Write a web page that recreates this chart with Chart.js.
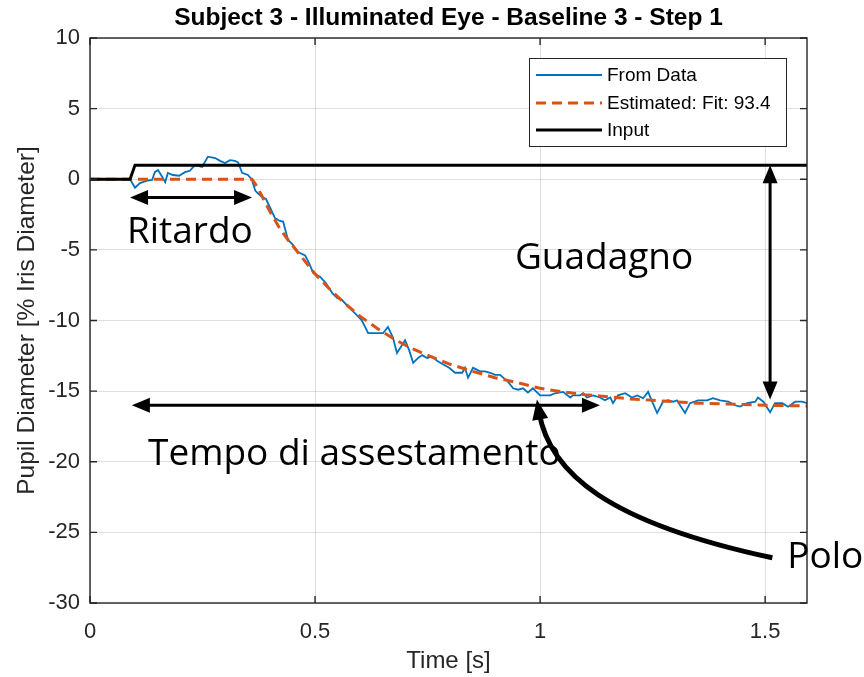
<!DOCTYPE html>
<html><head><meta charset="utf-8">
<script src="https://cdn.jsdelivr.net/npm/chart.js@4.4.1/dist/chart.umd.min.js"></script>
<style>html,body{margin:0;padding:0;background:#fff;}canvas{display:block;}</style>
</head><body>
<canvas id="c" width="864" height="677"></canvas>
<script>
// ---- text ----
const titleText = 'Subject 3 - Illuminated Eye - Baseline 3 - Step 1';
const xLabel = 'Time [s]';
const yLabel = 'Pupil Diameter [% Iris Diameter]';
const seriesNames = ['From Data', 'Estimated: Fit: 93.4', 'Input'];
const xTicks = [0, 0.5, 1, 1.5];
const yTicks = [-30, -25, -20, -15, -10, -5, 0, 5, 10];

// ---- measured data (From Data) ----
const dataT = [0,0.089,0.1,0.111,0.127,0.138,0.144,0.151,0.16,0.167,0.173,0.184,0.198,0.211,0.222,0.233,0.249,0.262,0.278,0.289,0.3,0.311,0.322,0.329,0.338,0.351,0.36,0.367,0.373,0.382,0.391,0.4,0.411,0.422,0.429,0.44,0.451,0.462,0.478,0.487,0.496,0.511,0.524,0.538,0.549,0.56,0.573,0.589,0.604,0.618,0.633,0.651,0.662,0.673,0.682,0.693,0.7,0.709,0.718,0.729,0.738,0.749,0.76,0.771,0.784,0.798,0.811,0.827,0.833,0.84,0.851,0.867,0.878,0.889,0.9,0.911,0.929,0.94,0.951,0.962,0.973,0.984,1.0,1.011,1.022,1.033,1.051,1.067,1.073,1.089,1.096,1.104,1.118,1.133,1.144,1.156,1.162,1.173,1.189,1.204,1.216,1.229,1.24,1.249,1.26,1.273,1.284,1.296,1.304,1.322,1.333,1.351,1.371,1.384,1.4,1.418,1.433,1.444,1.46,1.478,1.484,1.496,1.511,1.522,1.538,1.551,1.567,1.582,1.593];
const dataV = [0,0,-0.6,-0.27,-0.1,-0.05,0.5,0.65,0.2,-0.2,0.45,0.3,0.25,0.5,0.6,1.0,0.87,1.6,1.5,1.3,1.15,1.35,1.3,1.2,0.45,0.3,-0.05,-0.8,-1.0,-1.25,-1.4,-2.0,-2.75,-2.95,-3.0,-4.3,-4.65,-5.15,-5.4,-5.95,-6.65,-6.9,-7.35,-8.05,-8.4,-8.55,-9.0,-9.5,-10.0,-10.9,-10.9,-10.9,-10.45,-11.2,-12.3,-11.75,-11.4,-12.1,-13.0,-12.65,-12.45,-12.65,-12.55,-12.85,-13.1,-13.35,-13.7,-13.7,-13.35,-14.05,-13.35,-13.6,-13.6,-13.7,-13.85,-13.85,-14.35,-14.8,-14.9,-14.8,-15.1,-14.8,-15.3,-15.3,-15.3,-15.15,-15.05,-15.45,-15.3,-15.3,-15.15,-15.45,-15.3,-15.45,-15.65,-15.45,-15.85,-15.3,-15.15,-15.45,-15.3,-15.5,-15.05,-15.75,-16.55,-15.75,-15.65,-15.75,-15.65,-16.55,-15.85,-15.65,-15.65,-15.5,-15.65,-15.75,-16.0,-16.1,-15.85,-15.75,-15.45,-15.75,-16.5,-15.85,-15.85,-16.1,-15.75,-15.75,-15.85];

// ---- estimated model ----
const estT = [0,0.36,0.371,0.387,0.4,0.42,0.44,0.46,0.48,0.5,0.53,0.56,0.6,0.64,0.68,0.72,0.76,0.8,0.85,0.9,0.95,1.0,1.05,1.1,1.15,1.2,1.25,1.3,1.35,1.4,1.45,1.5,1.593];
const estV = [0,0,-0.5,-1.5,-2.3,-3.4,-4.3,-5.1,-5.9,-6.7,-7.7,-8.6,-9.7,-10.6,-11.4,-12.05,-12.6,-13.1,-13.6,-14.05,-14.4,-14.8,-15.05,-15.25,-15.4,-15.55,-15.65,-15.75,-15.85,-15.9,-15.95,-16.0,-16.05];

// ---- input step ----
const inT = [0, 0.089, 0.1, 1.593];
const inV = [0, 0, 1, 1];

// ---- annotation labels ----
const annLabels = ['Ritardo', 'Guadagno', 'Tempo di assestamento', 'Polo'];

const FONT = '"Liberation Sans", Arial, sans-serif';
const ANNFONT = '"Open Sans", "Noto Sans", sans-serif';

function head(ctx, tx, ty, ang, len, wid) {
  ctx.save();
  ctx.translate(tx, ty); ctx.rotate(ang);
  ctx.beginPath();
  ctx.moveTo(0, 0); ctx.lineTo(-len, -wid / 2); ctx.lineTo(-len, wid / 2); ctx.closePath();
  ctx.fill();
  ctx.restore();
}
function dblArrow(ctx, x1, y1, x2, y2) {
  const ang = Math.atan2(y2 - y1, x2 - x1);
  const L = 18, W = 15;
  ctx.beginPath();
  ctx.moveTo(x1 + Math.cos(ang) * L * 0.8, y1 + Math.sin(ang) * L * 0.8);
  ctx.lineTo(x2 - Math.cos(ang) * L * 0.8, y2 - Math.sin(ang) * L * 0.8);
  ctx.stroke();
  head(ctx, x2, y2, ang, L, W);
  head(ctx, x1, y1, ang + Math.PI, L, W);
}

const decor = {
  id: 'decor',
  afterDraw(chart) {
    const { ctx, chartArea: a, scales: { x, y } } = chart;
    const X = v => x.getPixelForValue(v), Y = v => y.getPixelForValue(v);
    ctx.save();
    // axes box
    ctx.strokeStyle = '#262626'; ctx.lineWidth = 1.4;
    ctx.strokeRect(a.left, a.top, a.right - a.left, a.bottom - a.top);
    // inward tick marks
    const tl = 7;
    ctx.beginPath();
    xTicks.forEach(v => { const p = X(v); ctx.moveTo(p, a.bottom); ctx.lineTo(p, a.bottom - tl); ctx.moveTo(p, a.top); ctx.lineTo(p, a.top + tl); });
    yTicks.forEach(v => { const p = Y(v); ctx.moveTo(a.left, p); ctx.lineTo(a.left + tl, p); ctx.moveTo(a.right, p); ctx.lineTo(a.right - tl, p); });
    ctx.stroke();
    // title
    ctx.fillStyle = '#000';
    ctx.font = 'bold 24.5px ' + FONT;
    ctx.textAlign = 'center'; ctx.textBaseline = 'middle';
    ctx.fillText(titleText, (a.left + a.right) / 2, 18);

    // legend
    const ds = chart.data.datasets;
    const lw = 257, lh = 88;
    const lx = a.right - 21 - lw, ly = a.top + 20;
    ctx.fillStyle = '#fff'; ctx.fillRect(lx, ly, lw, lh);
    ctx.strokeStyle = '#262626'; ctx.lineWidth = 1; ctx.strokeRect(lx + 0.5, ly + 0.5, lw, lh);
    const rows = [17, 45, 72];
    ds.forEach((d, i) => {
      const ry = ly + rows[i];
      ctx.save();
      ctx.strokeStyle = d.borderColor; ctx.lineWidth = d.borderWidth;
      ctx.setLineDash(d.borderDash || []);
      ctx.beginPath(); ctx.moveTo(lx + 7, ry); ctx.lineTo(lx + 73, ry); ctx.stroke();
      ctx.restore();
      ctx.fillStyle = '#000'; ctx.font = '19px ' + FONT;
      ctx.textAlign = 'left'; ctx.textBaseline = 'middle';
      ctx.fillText(d.label, lx + 78, ry + 1);
    });

    // annotations
    ctx.fillStyle = '#000'; ctx.strokeStyle = '#000'; ctx.lineWidth = 3;
    // Ritardo
    dblArrow(ctx, X(0.089), Y(-1.3), X(0.36), Y(-1.3));
    // Guadagno
    dblArrow(ctx, X(1.511), Y(1.0), X(1.511), Y(-15.6));
    // Tempo di assestamento
    dblArrow(ctx, X(0.093), Y(-16.0), X(1.133), Y(-16.0));
    // Polo curved arrow
    const tip = [X(0.993), Y(-15.6)], c1 = [X(1.02), Y(-20.8)], c2 = [X(1.15), Y(-24.3)], end = [X(1.516), Y(-26.8)];
    ctx.lineWidth = 5;
    const ang = Math.atan2(tip[1] - c1[1], tip[0] - c1[0]);
    ctx.beginPath();
    ctx.moveTo(end[0], end[1]);
    ctx.bezierCurveTo(c2[0], c2[1], c1[0], c1[1], tip[0] - Math.cos(ang) * 12, tip[1] - Math.sin(ang) * 12);
    ctx.stroke();
    head(ctx, tip[0], tip[1], ang, 20, 16);

    ctx.font = '37px ' + ANNFONT;
    ctx.textAlign = 'left'; ctx.textBaseline = 'middle';
    ctx.fillText(annLabels[0], X(0.082), Y(-3.8));
    ctx.fillText(annLabels[1], X(0.944), Y(-5.6));
    ctx.fillText(annLabels[2], X(0.129), Y(-19.5));
    ctx.fillText(annLabels[3], X(1.549), Y(-26.8));
    ctx.restore();
  }
};

const gridCol = 'rgba(38,38,38,0.15)';
new Chart(document.getElementById('c').getContext('2d'), {
  type: 'line',
  data: {
    datasets: [
      { label: seriesNames[0], data: dataT.map((t, i) => ({ x: t, y: dataV[i] })), borderColor: '#0072BD', borderWidth: 1.8, pointRadius: 0, tension: 0, order: 3 },
      { label: seriesNames[1], data: estT.map((t, i) => ({ x: t, y: estV[i] })), borderColor: '#D95319', borderWidth: 3, borderDash: [10, 6], pointRadius: 0, tension: 0, order: 2 },
      { label: seriesNames[2], data: inT.map((t, i) => ({ x: t, y: inV[i] })), borderColor: '#000000', borderWidth: 3, pointRadius: 0, tension: 0, order: 1 }
    ]
  },
  options: {
    responsive: false, animation: false, devicePixelRatio: 1,
    layout: { padding: { left: 0, right: 57, top: 38, bottom: 0 } },
    plugins: { legend: { display: false }, title: { display: false }, tooltip: { enabled: false } },
    scales: {
      x: {
        type: 'linear', min: 0, max: 1.593,
        afterBuildTicks: s => { s.ticks = xTicks.map(v => ({ value: v })); },
        afterFit: s => { s.height = 74; },
        grid: { color: gridCol, drawTicks: false, lineWidth: 1 },
        border: { display: false },
        ticks: { padding: 16, color: '#262626', maxRotation: 0, font: { family: FONT, size: 22 }, callback: v => String(v) },
        title: { display: true, text: xLabel, color: '#262626', font: { family: FONT, size: 24 }, padding: { top: 0, bottom: 1 } }
      },
      y: {
        type: 'linear', min: -30, max: 10,
        afterBuildTicks: s => { s.ticks = yTicks.map(v => ({ value: v })); },
        afterFit: s => { s.width = 90; },
        grid: { color: gridCol, drawTicks: false, lineWidth: 1 },
        border: { display: false },
        ticks: { padding: 10, color: '#262626', font: { family: FONT, size: 22 }, callback: v => String(v) },
        title: { display: true, text: yLabel, color: '#262626', font: { family: FONT, size: 24.5 }, padding: { top: 13, bottom: 0 } }
      }
    }
  },
  plugins: [decor]
});
</script>
</body></html>
